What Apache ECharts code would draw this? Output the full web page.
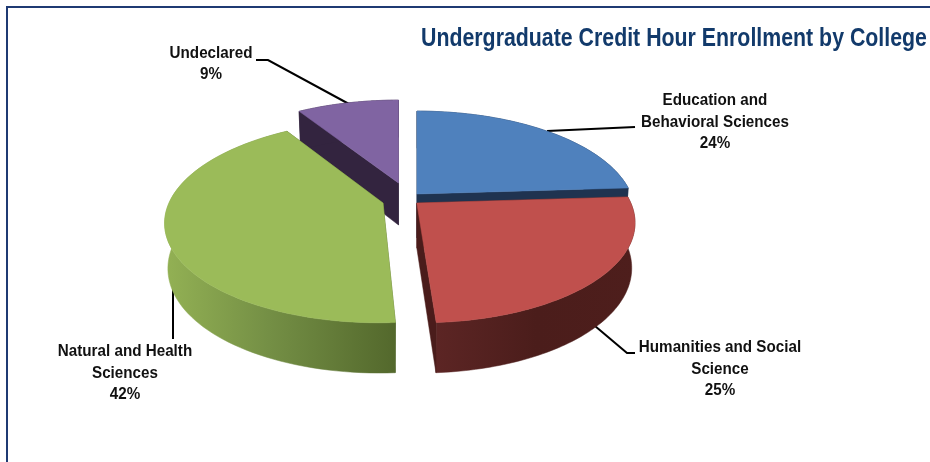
<!DOCTYPE html>
<html><head><meta charset="utf-8">
<style>html,body{margin:0;padding:0;background:#fff}#c{width:930px;height:462px}</style>
<script src="https://cdn.jsdelivr.net/npm/echarts@6/dist/echarts.min.js"></script>
</head><body><div id="c"></div>
<script>
const titleText = 'Undergraduate Credit Hour Enrollment by College';
const categories = ['Education and Behavioral Sciences','Humanities and Social Science','Natural and Health Sciences','Undeclared'];
const labelLines = [['Education and','Behavioral Sciences'],['Humanities and Social','Science'],['Natural and Health','Sciences'],['Undeclared']];
const values = [24,25,42,9];
const topColors = ['#4f81bd','#c0504d','#9bbb59','#8064a2'];
const cutColors = ['#1f3350','#4a1c1b','#4f6228','#33243f'];
const apexes = [[417,194],[416.8,203],[383,203],[398.5,183]];
const apexDepths = [44,45,44,42];
const skews = [0,3,-4,0];
const labelAnchors = [[715,122],[720,369],[125,373],[211,64]];
const leaders = [[[547,131],[635,127]],[[595,326],[627,353],[635,353]],[[173,282],[173,339]],[[349,104],[268,60],[256,60]]];
const drawOrder = [3,0,2,1];
const RX=214, K=0.182, A=98;

function project(i,ang,lower){
  const apex=apexes[i];
  const u=Math.sin(ang), v=-Math.cos(ang);
  const w=1-K*v;
  const x=RX*u/w+skews[i]*v, y=A*v/w;
  if(!lower) return [apex[0]+x,apex[1]+y];
  return [apex[0]+x*0.985,apex[1]+y*0.985+44+8*v];
}
const total=values.reduce((a,b)=>a+b,0);
const starts=[];values.reduce((acc,v,i)=>{starts[i]=acc;return acc+v;},0);

function wallFill(i){
  const G=echarts.graphic.LinearGradient;
  if(i===2) return new G(165,0,396,0,[{offset:0,color:'#93b154'},{offset:0.45,color:'#748f45'},{offset:1,color:'#53682c'}],true);
  if(i===1) return new G(436,0,636,0,[{offset:0,color:'#5c2524'},{offset:0.5,color:'#4b1d1b'},{offset:1,color:'#4e1e1c'}],true);
  return cutColors[i];
}
function renderSlice(params,api){
  const i=api.value(0), apex=apexes[i];
  const a0=starts[i]/total*2*Math.PI, a1=(starts[i]+values[i])/total*2*Math.PI;
  const up=[],low=[];
  const n=80;
  for(let s=0;s<=n;s++){
    const a=a0+(a1-a0)*s/n;
    up.push(project(i,a,false));
    low.push(project(i,a,true));
  }
  const ap=[apex[0],apex[1]], apL=[apex[0],apex[1]+apexDepths[i]];
  const poly=(pts,fill)=>({type:'polygon',shape:{points:pts},style:{fill:fill,stroke:fill,lineWidth:0.5},silent:true});
  const children=[
    poly([ap,up[0],low[0],apL],cutColors[i]),
    poly(up.concat(low.slice().reverse()),wallFill(i)),
    poly([ap,up[n],low[n],apL],cutColors[i]),
    poly([ap].concat(up),topColors[i])
  ];
  return {type:'group',children};
}
const FONT='"Liberation Sans",Arial';
const graphicEls=[
  {type:'rect',shape:{x:7,y:6,width:923,height:2},style:{fill:'#1f3a73'},silent:true},
  {type:'rect',shape:{x:6,y:6,width:2,height:456},style:{fill:'#1f3a73'},silent:true}
];
leaders.forEach(pts=>graphicEls.push({type:'polyline',shape:{points:pts},style:{stroke:'#000',lineWidth:2,fill:null},silent:true}));
graphicEls.push({type:'text',x:421,y:39,scaleX:0.853,silent:true,
  style:{text:titleText,fill:'#123a6b',align:'left',verticalAlign:'middle',font:'bold 25px '+FONT}});
categories.forEach((c,i)=>{
  const lines=labelLines[i].concat([values[i]+'%']);
  graphicEls.push({type:'text',x:labelAnchors[i][0],y:labelAnchors[i][1],scaleX:0.895,silent:true,
    style:{text:lines.join('\n'),fill:'#111',align:'center',verticalAlign:'middle',
      font:'bold 17px '+FONT,lineHeight:21.5}});
});
const chart=echarts.init(document.getElementById('c'),null,{renderer:'canvas'});
chart.setOption({
  animation:false,
  backgroundColor:'#fff',
  series:[{type:'custom',coordinateSystem:'none',silent:true,renderItem:renderSlice,
    data:drawOrder.map(i=>({name:categories[i],value:[i,values[i]]})),
    encode:{value:1}}],
  graphic:graphicEls
});
</script></body></html>
